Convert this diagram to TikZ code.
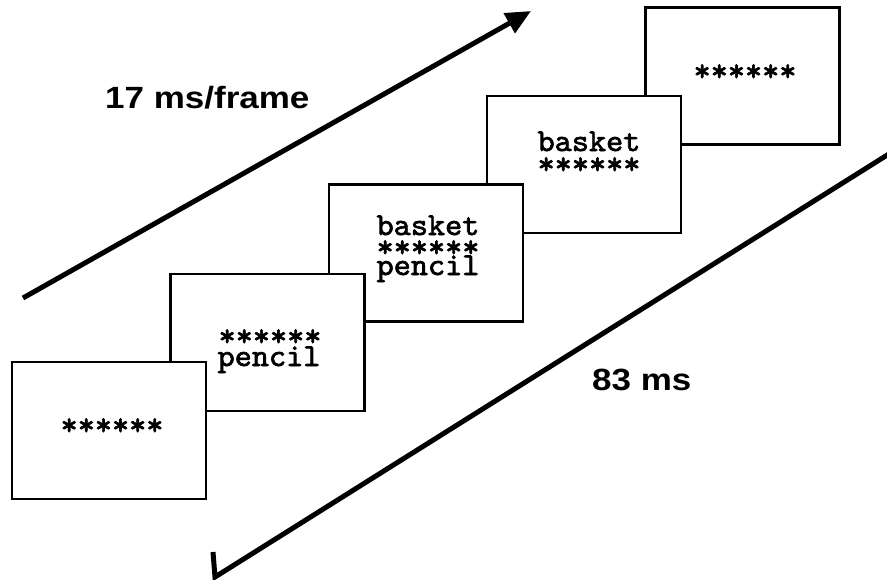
\documentclass[tikz,border=0pt]{standalone}
\usepackage{fontspec}
\usetikzlibrary{arrows.meta}
\newfontfamily\labfont[FakeStretch=1.14]{Liberation Sans}
\newfontfamily\wordfont[FakeStretch=1.02,FakeBold=2]{lmmono10-regular.otf}
\begin{document}
\begin{tikzpicture}[x=1pt,y=-1pt,
  frame/.style={draw,line width=2.5pt,fill=white,minimum width=194pt,minimum height=137pt,inner sep=0pt},
  word/.style={anchor=base,inner sep=0pt,font=\wordfont\fontsize{32}{32}\selectfont},
  lab/.style={anchor=base west,inner sep=0pt,font=\labfont\bfseries\fontsize{30.7}{31}\selectfont},
  thickline/.style={line width=5pt}]
\useasboundingbox[fill=white] (0,0) rectangle (887,579);
% frames, back to front
\node[frame] (f5) at (742.5,76) {};
\node[frame] (f4) at (584,164.5) {};
\node[frame] (f3) at (426,253) {};
\node[frame] (f2) at (267.5,342.5) {};
\node[frame] (f1) at (109,430.5) {};
% frame texts
\node[word] (t1s) at (112,435) {******};
\node[word] (t2s) at (270,346) {******};
\node[word] (t2p) at (269,366) {pencil};
\node[word] (t3b) at (428,235) {basket};
\node[word] (t3s) at (428,257) {******};
\node[word] (t3p) at (428,275) {pencil};
\node[word] (t4b) at (589,151) {basket};
\node[word] (t4s) at (589,174) {******};
\node[word] (t5s) at (745,81) {******};
% labels
\node[lab] (l17) at (105,108) {17 ms/frame};
\node[lab] (l83) at (592,390) {83 ms};
% arrows
\coordinate (a1) at (23,298);
\coordinate (a2) at (531,11);
\draw[thickline,-{Triangle[length=25pt,width=22pt]}] (a1) -- (a2);
\coordinate (b1) at (892,152);
\coordinate (b2) at (215,577);
\coordinate (b3) at (213,552);
\draw[thickline,line join=miter] (b1) -- (b2) -- (b3);
\end{tikzpicture}
\end{document}
